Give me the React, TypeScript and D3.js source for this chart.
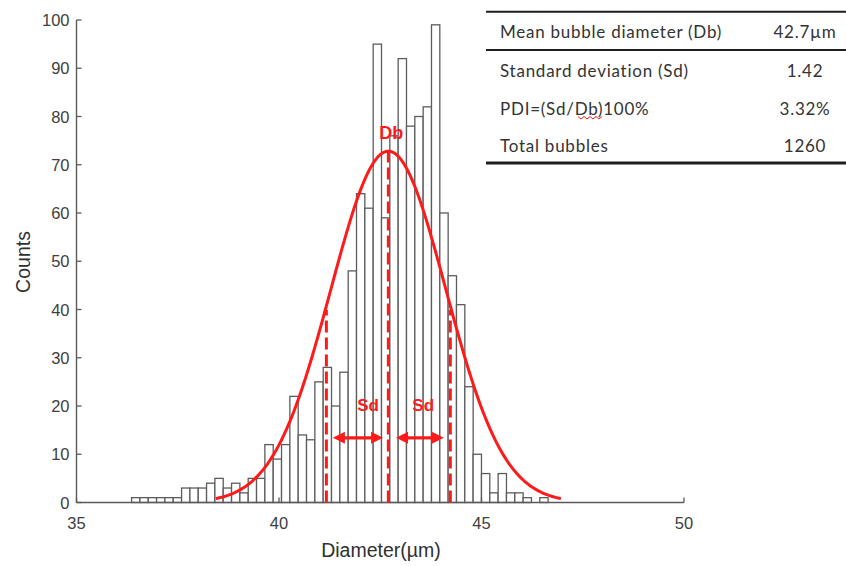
import React from "react";
import * as d3 from "d3";

// ---- Data ----
const binStart = 36.36;
const binWidth = 0.2057;
const counts = [
  1, 1, 1, 1, 1, 1, 3, 3, 3, 4, 5, 3, 4, 2, 5, 5, 12, 9, 12, 22, 14, 13, 25, 28, 20,
  27, 48, 64, 61, 95, 59, 76, 92, 78, 80, 82, 99, 60, 47, 41, 24, 10, 6, 2, 6, 2, 2, 1, 0, 1,
];
const xTicks = [35, 40, 45, 50];
const yTicks = [0, 10, 20, 30, 40, 50, 60, 70, 80, 90, 100];
const meanD = 42.7;
const sdD = 1.42;
const totalN = 1260;
const sdLineOffset = 1.53;
const tableLabels = ["Mean bubble diameter (Db)", "Standard deviation (Sd)", "PDI=(Sd/Db)100%", "Total bubbles"];
const tableValues = ["42.7µm", "1.42", "3.32%", "1260"];

const W = 846;
const H = 566;
const RED = "#ff1a1a";
const AX = "#5a5a5a";
const FONT = "'Liberation Sans', Arial, sans-serif";
const TFONT = "Lato, 'Open Sans', sans-serif";

export default function App() {
  const x = d3.scaleLinear().domain([35, 50]).range([76.5, 684]);
  const y = d3.scaleLinear().domain([0, 100]).range([502.5, 20]);

  const bins = counts.map((c, i) => ({ x0: binStart + i * binWidth, x1: binStart + (i + 1) * binWidth, c }));

  const peak = (totalN * binWidth) / (sdD * Math.sqrt(2 * Math.PI));
  const gauss = (v: number) => peak * Math.exp(-0.5 * ((v - meanD) / sdD) ** 2);
  const curvePts = d3.range(0, 201).map((k) => {
    const v = meanD - 3 * sdD + (6 * sdD * k) / 200;
    return [v, gauss(v)] as [number, number];
  });
  const line = d3
    .line<[number, number]>()
    .x((d) => x(d[0]))
    .y((d) => y(d[1]));

  const sdL = meanD - sdLineOffset;
  const sdR = meanD + sdLineOffset;
  const arrowY = y(13.4);
  const arrows = [
    [41.33, 42.57],
    [42.89, 44.07],
  ];
  const head = 10;
  const half = 6;

  const rowY = [31.7, 70, 108, 145];

  return (
    <svg width={W} height={H} style={{ position: "absolute", left: 0, top: 0, background: "#fff" }} fontFamily={FONT}>
      <rect width={W} height={H} fill="#fff" />
      {/* bars */}
      {bins.map((b, i) => (
        <rect
          key={i}
          x={x(b.x0)}
          y={y(b.c)}
          width={x(b.x1) - x(b.x0)}
          height={y(0) - y(b.c)}
          fill="#fff"
          stroke="#5c5c5c"
          strokeWidth={1.3}
        />
      ))}
      {/* axes */}
      <line x1={x(35)} x2={x(35)} y1={y(0)} y2={y(100)} stroke={AX} strokeWidth={1.4} />
      <line x1={x(35)} x2={x(50)} y1={y(0)} y2={y(0)} stroke={AX} strokeWidth={1.4} />
      {yTicks.map((t) => (
        <g key={"y" + t}>
          <line x1={x(35)} x2={x(35) + 5} y1={y(t)} y2={y(t)} stroke={AX} strokeWidth={1.3} />
          <text x={x(35) - 7} y={y(t)} textAnchor="end" dominantBaseline="central" fontSize={16.5} fill="#404040">
            {t}
          </text>
        </g>
      ))}
      {xTicks.map((t) => (
        <g key={"x" + t}>
          <line x1={x(t)} x2={x(t)} y1={y(0)} y2={y(0) - 5} stroke={AX} strokeWidth={1.3} />
          <text x={x(t)} y={523} textAnchor="middle" dominantBaseline="central" fontSize={16.5} fill="#404040">
            {t}
          </text>
        </g>
      ))}
      <text x={381} y={550} textAnchor="middle" dominantBaseline="central" fontSize={19.5} fill="#303030">
        Diameter(µm)
      </text>
      <text
        transform={`translate(23,262) rotate(-90)`}
        textAnchor="middle"
        dominantBaseline="central"
        fontSize={19.5}
        fill="#303030"
      >
        Counts
      </text>

      {/* fitted curve */}
      <path d={line(curvePts) || ""} fill="none" stroke={RED} strokeWidth={3} />

      {/* dashed lines */}
      {[sdL, meanD, sdR].map((v, i) => (
        <line
          key={"d" + i}
          x1={x(v)}
          x2={x(v)}
          y1={y(0)}
          y2={i === 1 ? y(gauss(v)) : y(gauss(v)) + 4}
          stroke={RED}
          strokeWidth={3}
          strokeDasharray="12,5"
        />
      ))}

      {/* arrows */}
      {arrows.map(([a, b], i) => {
        const xa = x(a);
        const xb = x(b);
        return (
          <g key={"a" + i} fill={RED}>
            <line x1={xa + head - 1} x2={xb - head + 1} y1={arrowY} y2={arrowY} stroke={RED} strokeWidth={3.2} />
            <path d={`M${xa},${arrowY} L${xa + head + 2},${arrowY - half} L${xa + head + 2},${arrowY + half} Z`} />
            <path d={`M${xb},${arrowY} L${xb - head - 2},${arrowY - half} L${xb - head - 2},${arrowY + half} Z`} />
          </g>
        );
      })}

      {/* annotation labels */}
      <text x={x(42.77)} y={y(76.5)} textAnchor="middle" dominantBaseline="central" fontSize={18} fontWeight="bold" fill={RED}>
        Db
      </text>
      <text x={x(42.2)} y={y(20.2)} textAnchor="middle" dominantBaseline="central" fontSize={17} fontWeight="bold" fill={RED}>
        Sd
      </text>
      <text x={x(43.56)} y={y(20.2)} textAnchor="middle" dominantBaseline="central" fontSize={17} fontWeight="bold" fill={RED}>
        Sd
      </text>

      {/* table */}
      <line x1={486} x2={846} y1={11.7} y2={11.7} stroke="#1e1e1e" strokeWidth={2} />
      <line x1={486} x2={846} y1={50} y2={50} stroke="#1e1e1e" strokeWidth={2} />
      <line x1={486} x2={846} y1={163} y2={163} stroke="#1e1e1e" strokeWidth={3} />
      {tableLabels.map((l, i) => (
        <text key={"tl" + i} x={500} y={rowY[i]} dominantBaseline="central" fontSize={17} letterSpacing={0.75} fill="#333" fontFamily={TFONT}>
          {l}
        </text>
      ))}
      {tableValues.map((v, i) => (
        <text key={"tv" + i} x={805} y={rowY[i]} textAnchor="middle" dominantBaseline="central" fontSize={17} letterSpacing={0.75} fill="#333" fontFamily={TFONT}>
          {v}
        </text>
      ))}
      <path
        d={d3.range(0, 9).map((k) => `${k === 0 ? "M" : "L"}${578 + k * 3},${k % 2 === 0 ? 116.5 : 119}`).join(" ")}
        fill="none"
        stroke={RED}
        strokeWidth={1}
      />
    </svg>
  );
}
